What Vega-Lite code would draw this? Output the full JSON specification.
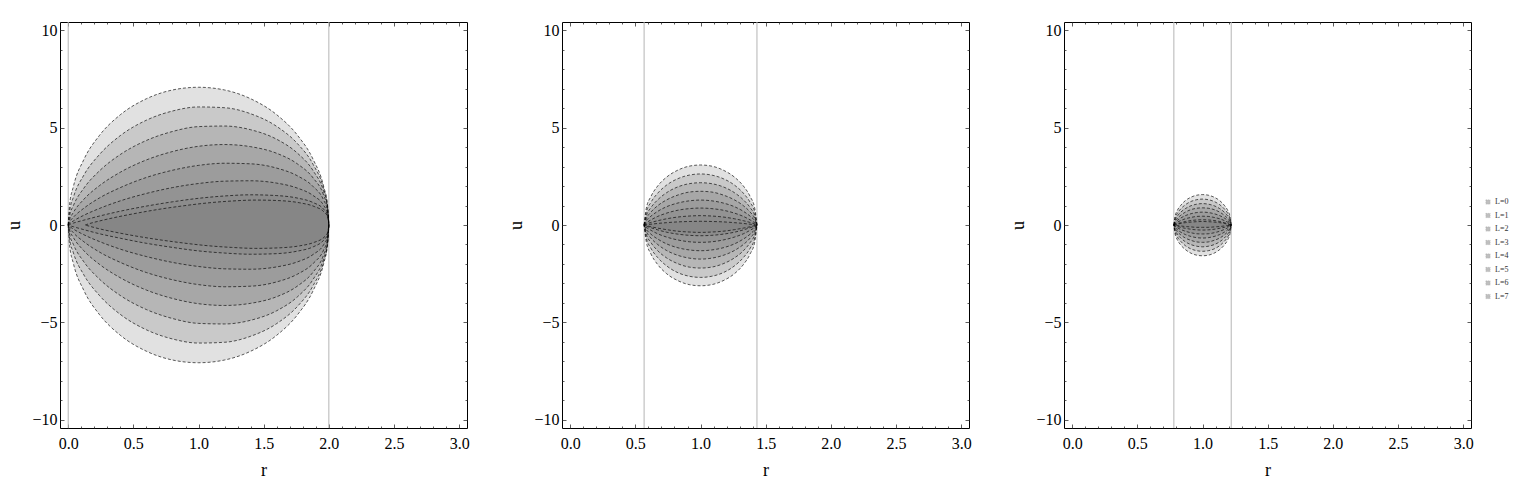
{
"$schema": "https://vega.github.io/schema/vega-lite/v6.json",
"padding": {"left": 5, "top": 21, "right": 0, "bottom": 0},
"bounds": "flush",
"spacing": 95,
"background": "white",
"config": {
  "view": {"stroke": "black", "strokeWidth": 1},
  "axis": {"labelFont": "Liberation Serif", "labelFontSize": 16, "labelColor": "black", "titleFont": "Liberation Serif", "titleFontSize": 18, "titleFontWeight": "normal", "titleColor": "black", "tickColor": "#333", "tickWidth": 0.8, "grid": false, "labelFlush": false, "labelOverlap": false, "domain": false}
},
"datasets": {
"shapes": [
{"p":1,"L":0,"r":0,"hi":0,"lo":0},{"p":1,"L":0,"r":0.01,"hi":1.0,"lo":-1.0},{"p":1,"L":0,"r":0.04,"hi":1.98,"lo":-1.98},{"p":1,"L":0,"r":0.12,"hi":3.36,"lo":-3.36},{"p":1,"L":0,"r":0.24,"hi":4.6,"lo":-4.6},{"p":1,"L":0,"r":0.4,"hi":5.66,"lo":-5.66},{"p":1,"L":0,"r":0.6,"hi":6.48,"lo":-6.48},{"p":1,"L":0,"r":0.8,"hi":6.93,"lo":-6.93},{"p":1,"L":0,"r":1.0,"hi":7.07,"lo":-7.07},{"p":1,"L":0,"r":1.2,"hi":6.93,"lo":-6.93},{"p":1,"L":0,"r":1.4,"hi":6.48,"lo":-6.48},{"p":1,"L":0,"r":1.6,"hi":5.66,"lo":-5.66},{"p":1,"L":0,"r":1.76,"hi":4.6,"lo":-4.6},{"p":1,"L":0,"r":1.88,"hi":3.36,"lo":-3.36},{"p":1,"L":0,"r":1.96,"hi":1.98,"lo":-1.98},{"p":1,"L":0,"r":1.99,"hi":1.0,"lo":-1.0},{"p":1,"L":0,"r":2,"hi":0,"lo":0},
{"p":1,"L":1,"r":0,"hi":0,"lo":0},{"p":1,"L":1,"r":0.01,"hi":0.67,"lo":-0.67},{"p":1,"L":1,"r":0.04,"hi":1.43,"lo":-1.43},{"p":1,"L":1,"r":0.12,"hi":2.56,"lo":-2.56},{"p":1,"L":1,"r":0.24,"hi":3.62,"lo":-3.62},{"p":1,"L":1,"r":0.4,"hi":4.59,"lo":-4.59},{"p":1,"L":1,"r":0.6,"hi":5.38,"lo":-5.38},{"p":1,"L":1,"r":0.8,"hi":5.85,"lo":-5.85},{"p":1,"L":1,"r":1.0,"hi":6.06,"lo":-6.06},{"p":1,"L":1,"r":1.2,"hi":6.02,"lo":-6.02},{"p":1,"L":1,"r":1.4,"hi":5.71,"lo":-5.71},{"p":1,"L":1,"r":1.6,"hi":5.06,"lo":-5.06},{"p":1,"L":1,"r":1.76,"hi":4.17,"lo":-4.17},{"p":1,"L":1,"r":1.88,"hi":3.1,"lo":-3.1},{"p":1,"L":1,"r":1.96,"hi":1.87,"lo":-1.87},{"p":1,"L":1,"r":1.99,"hi":0.97,"lo":-0.97},{"p":1,"L":1,"r":2,"hi":0,"lo":0},
{"p":1,"L":2,"r":0,"hi":0,"lo":0},{"p":1,"L":2,"r":0.01,"hi":0.44,"lo":-0.44},{"p":1,"L":2,"r":0.04,"hi":1.0,"lo":-1.0},{"p":1,"L":2,"r":0.12,"hi":1.89,"lo":-1.89},{"p":1,"L":2,"r":0.24,"hi":2.78,"lo":-2.78},{"p":1,"L":2,"r":0.4,"hi":3.62,"lo":-3.62},{"p":1,"L":2,"r":0.6,"hi":4.34,"lo":-4.34},{"p":1,"L":2,"r":0.8,"hi":4.8,"lo":-4.8},{"p":1,"L":2,"r":1.0,"hi":5.05,"lo":-5.05},{"p":1,"L":2,"r":1.2,"hi":5.08,"lo":-5.08},{"p":1,"L":2,"r":1.4,"hi":4.89,"lo":-4.89},{"p":1,"L":2,"r":1.6,"hi":4.4,"lo":-4.4},{"p":1,"L":2,"r":1.76,"hi":3.68,"lo":-3.68},{"p":1,"L":2,"r":1.88,"hi":2.78,"lo":-2.78},{"p":1,"L":2,"r":1.96,"hi":1.72,"lo":-1.72},{"p":1,"L":2,"r":1.99,"hi":0.92,"lo":-0.92},{"p":1,"L":2,"r":2,"hi":0,"lo":0},
{"p":1,"L":3,"r":0,"hi":0,"lo":0},{"p":1,"L":3,"r":0.01,"hi":0.26,"lo":-0.26},{"p":1,"L":3,"r":0.04,"hi":0.65,"lo":-0.65},{"p":1,"L":3,"r":0.12,"hi":1.32,"lo":-1.32},{"p":1,"L":3,"r":0.24,"hi":2.02,"lo":-2.02},{"p":1,"L":3,"r":0.4,"hi":2.71,"lo":-2.71},{"p":1,"L":3,"r":0.6,"hi":3.34,"lo":-3.34},{"p":1,"L":3,"r":0.8,"hi":3.77,"lo":-3.77},{"p":1,"L":3,"r":1.0,"hi":4.04,"lo":-4.04},{"p":1,"L":3,"r":1.2,"hi":4.13,"lo":-4.13},{"p":1,"L":3,"r":1.4,"hi":4.02,"lo":-4.02},{"p":1,"L":3,"r":1.6,"hi":3.68,"lo":-3.68},{"p":1,"L":3,"r":1.76,"hi":3.13,"lo":-3.13},{"p":1,"L":3,"r":1.88,"hi":2.41,"lo":-2.41},{"p":1,"L":3,"r":1.96,"hi":1.53,"lo":-1.53},{"p":1,"L":3,"r":1.99,"hi":0.84,"lo":-0.84},{"p":1,"L":3,"r":2,"hi":0,"lo":0},
{"p":1,"L":4,"r":0,"hi":0,"lo":0},{"p":1,"L":4,"r":0.01,"hi":0.15,"lo":-0.15},{"p":1,"L":4,"r":0.04,"hi":0.4,"lo":-0.4},{"p":1,"L":4,"r":0.12,"hi":0.86,"lo":-0.86},{"p":1,"L":4,"r":0.24,"hi":1.39,"lo":-1.39},{"p":1,"L":4,"r":0.4,"hi":1.92,"lo":-1.92},{"p":1,"L":4,"r":0.6,"hi":2.44,"lo":-2.44},{"p":1,"L":4,"r":0.8,"hi":2.81,"lo":-2.81},{"p":1,"L":4,"r":1.0,"hi":3.06,"lo":-3.06},{"p":1,"L":4,"r":1.2,"hi":3.17,"lo":-3.17},{"p":1,"L":4,"r":1.4,"hi":3.14,"lo":-3.14},{"p":1,"L":4,"r":1.6,"hi":2.92,"lo":-2.92},{"p":1,"L":4,"r":1.76,"hi":2.52,"lo":-2.52},{"p":1,"L":4,"r":1.88,"hi":1.97,"lo":-1.97},{"p":1,"L":4,"r":1.96,"hi":1.28,"lo":-1.28},{"p":1,"L":4,"r":1.99,"hi":0.73,"lo":-0.73},{"p":1,"L":4,"r":2,"hi":0,"lo":0},
{"p":1,"L":5,"r":0,"hi":0,"lo":0},{"p":1,"L":5,"r":0.01,"hi":0.07,"lo":-0.07},{"p":1,"L":5,"r":0.04,"hi":0.21,"lo":-0.21},{"p":1,"L":5,"r":0.12,"hi":0.5,"lo":-0.5},{"p":1,"L":5,"r":0.24,"hi":0.85,"lo":-0.85},{"p":1,"L":5,"r":0.4,"hi":1.24,"lo":-1.24},{"p":1,"L":5,"r":0.6,"hi":1.62,"lo":-1.62},{"p":1,"L":5,"r":0.8,"hi":1.92,"lo":-1.92},{"p":1,"L":5,"r":1.0,"hi":2.13,"lo":-2.13},{"p":1,"L":5,"r":1.2,"hi":2.25,"lo":-2.25},{"p":1,"L":5,"r":1.4,"hi":2.27,"lo":-2.27},{"p":1,"L":5,"r":1.6,"hi":2.15,"lo":-2.15},{"p":1,"L":5,"r":1.76,"hi":1.89,"lo":-1.89},{"p":1,"L":5,"r":1.88,"hi":1.51,"lo":-1.51},{"p":1,"L":5,"r":1.96,"hi":1.01,"lo":-1.01},{"p":1,"L":5,"r":1.99,"hi":0.59,"lo":-0.59},{"p":1,"L":5,"r":2,"hi":0,"lo":0},
{"p":1,"L":6,"r":0,"hi":0,"lo":0},{"p":1,"L":6,"r":0.01,"hi":0.03,"lo":-0.03},{"p":1,"L":6,"r":0.04,"hi":0.1,"lo":-0.09},{"p":1,"L":6,"r":0.12,"hi":0.25,"lo":-0.24},{"p":1,"L":6,"r":0.24,"hi":0.46,"lo":-0.45},{"p":1,"L":6,"r":0.4,"hi":0.71,"lo":-0.68},{"p":1,"L":6,"r":0.6,"hi":0.97,"lo":-0.94},{"p":1,"L":6,"r":0.8,"hi":1.19,"lo":-1.15},{"p":1,"L":6,"r":1.0,"hi":1.37,"lo":-1.33},{"p":1,"L":6,"r":1.2,"hi":1.49,"lo":-1.44},{"p":1,"L":6,"r":1.4,"hi":1.55,"lo":-1.5},{"p":1,"L":6,"r":1.6,"hi":1.51,"lo":-1.47},{"p":1,"L":6,"r":1.76,"hi":1.38,"lo":-1.34},{"p":1,"L":6,"r":1.88,"hi":1.15,"lo":-1.12},{"p":1,"L":6,"r":1.96,"hi":0.81,"lo":-0.78},{"p":1,"L":6,"r":1.99,"hi":0.51,"lo":-0.49},{"p":1,"L":6,"r":2,"hi":0,"lo":0},
{"p":1,"L":7,"r":0.13,"hi":0,"lo":0},{"p":1,"L":7,"r":0.139,"hi":0.02,"lo":-0.02},{"p":1,"L":7,"r":0.167,"hi":0.08,"lo":-0.07},{"p":1,"L":7,"r":0.242,"hi":0.21,"lo":-0.2},{"p":1,"L":7,"r":0.354,"hi":0.38,"lo":-0.36},{"p":1,"L":7,"r":0.504,"hi":0.58,"lo":-0.55},{"p":1,"L":7,"r":0.691,"hi":0.8,"lo":-0.75},{"p":1,"L":7,"r":0.878,"hi":0.98,"lo":-0.92},{"p":1,"L":7,"r":1.065,"hi":1.13,"lo":-1.06},{"p":1,"L":7,"r":1.252,"hi":1.23,"lo":-1.15},{"p":1,"L":7,"r":1.439,"hi":1.28,"lo":-1.2},{"p":1,"L":7,"r":1.626,"hi":1.25,"lo":-1.17},{"p":1,"L":7,"r":1.776,"hi":1.14,"lo":-1.07},{"p":1,"L":7,"r":1.888,"hi":0.95,"lo":-0.89},{"p":1,"L":7,"r":1.963,"hi":0.67,"lo":-0.63},{"p":1,"L":7,"r":1.991,"hi":0.42,"lo":-0.39},{"p":1,"L":7,"r":2,"hi":0,"lo":0},

{"p":2,"L":0,"r":0.567,"hi":0,"lo":0},{"p":2,"L":0,"r":0.584,"hi":0.86,"lo":-0.87},{"p":2,"L":0,"r":0.619,"hi":1.46,"lo":-1.48},{"p":2,"L":0,"r":0.671,"hi":2.0,"lo":-2.03},{"p":2,"L":0,"r":0.74,"hi":2.46,"lo":-2.5},{"p":2,"L":0,"r":0.827,"hi":2.82,"lo":-2.86},{"p":2,"L":0,"r":0.913,"hi":3.02,"lo":-3.06},{"p":2,"L":0,"r":1.0,"hi":3.08,"lo":-3.12},{"p":2,"L":0,"r":1.087,"hi":3.02,"lo":-3.06},{"p":2,"L":0,"r":1.173,"hi":2.82,"lo":-2.86},{"p":2,"L":0,"r":1.26,"hi":2.46,"lo":-2.5},{"p":2,"L":0,"r":1.329,"hi":2.0,"lo":-2.03},{"p":2,"L":0,"r":1.381,"hi":1.46,"lo":-1.48},{"p":2,"L":0,"r":1.416,"hi":0.86,"lo":-0.87},{"p":2,"L":0,"r":1.433,"hi":0,"lo":0},
{"p":2,"L":1,"r":0.567,"hi":0,"lo":0},{"p":2,"L":1,"r":0.584,"hi":0.65,"lo":-0.66},{"p":2,"L":1,"r":0.619,"hi":1.16,"lo":-1.19},{"p":2,"L":1,"r":0.671,"hi":1.63,"lo":-1.67},{"p":2,"L":1,"r":0.74,"hi":2.05,"lo":-2.1},{"p":2,"L":1,"r":0.827,"hi":2.38,"lo":-2.45},{"p":2,"L":1,"r":0.913,"hi":2.56,"lo":-2.63},{"p":2,"L":1,"r":1.0,"hi":2.62,"lo":-2.69},{"p":2,"L":1,"r":1.087,"hi":2.56,"lo":-2.63},{"p":2,"L":1,"r":1.173,"hi":2.38,"lo":-2.45},{"p":2,"L":1,"r":1.26,"hi":2.05,"lo":-2.1},{"p":2,"L":1,"r":1.329,"hi":1.63,"lo":-1.67},{"p":2,"L":1,"r":1.381,"hi":1.16,"lo":-1.19},{"p":2,"L":1,"r":1.416,"hi":0.65,"lo":-0.66},{"p":2,"L":1,"r":1.433,"hi":0,"lo":0},
{"p":2,"L":2,"r":0.567,"hi":0,"lo":0},{"p":2,"L":2,"r":0.584,"hi":0.47,"lo":-0.48},{"p":2,"L":2,"r":0.619,"hi":0.89,"lo":-0.9},{"p":2,"L":2,"r":0.671,"hi":1.29,"lo":-1.32},{"p":2,"L":2,"r":0.74,"hi":1.66,"lo":-1.69},{"p":2,"L":2,"r":0.827,"hi":1.96,"lo":-1.99},{"p":2,"L":2,"r":0.913,"hi":2.12,"lo":-2.16},{"p":2,"L":2,"r":1.0,"hi":2.17,"lo":-2.21},{"p":2,"L":2,"r":1.087,"hi":2.12,"lo":-2.16},{"p":2,"L":2,"r":1.173,"hi":1.96,"lo":-1.99},{"p":2,"L":2,"r":1.26,"hi":1.66,"lo":-1.69},{"p":2,"L":2,"r":1.329,"hi":1.29,"lo":-1.32},{"p":2,"L":2,"r":1.381,"hi":0.89,"lo":-0.9},{"p":2,"L":2,"r":1.416,"hi":0.47,"lo":-0.48},{"p":2,"L":2,"r":1.433,"hi":0,"lo":0},
{"p":2,"L":3,"r":0.567,"hi":0,"lo":0},{"p":2,"L":3,"r":0.584,"hi":0.33,"lo":-0.33},{"p":2,"L":3,"r":0.619,"hi":0.66,"lo":-0.67},{"p":2,"L":3,"r":0.671,"hi":0.99,"lo":-1.0},{"p":2,"L":3,"r":0.74,"hi":1.29,"lo":-1.31},{"p":2,"L":3,"r":0.827,"hi":1.54,"lo":-1.56},{"p":2,"L":3,"r":0.913,"hi":1.69,"lo":-1.7},{"p":2,"L":3,"r":1.0,"hi":1.73,"lo":-1.75},{"p":2,"L":3,"r":1.087,"hi":1.69,"lo":-1.7},{"p":2,"L":3,"r":1.173,"hi":1.54,"lo":-1.56},{"p":2,"L":3,"r":1.26,"hi":1.29,"lo":-1.31},{"p":2,"L":3,"r":1.329,"hi":0.99,"lo":-1.0},{"p":2,"L":3,"r":1.381,"hi":0.66,"lo":-0.67},{"p":2,"L":3,"r":1.416,"hi":0.33,"lo":-0.33},{"p":2,"L":3,"r":1.433,"hi":0,"lo":0},
{"p":2,"L":4,"r":0.567,"hi":0,"lo":0},{"p":2,"L":4,"r":0.584,"hi":0.22,"lo":-0.22},{"p":2,"L":4,"r":0.619,"hi":0.45,"lo":-0.47},{"p":2,"L":4,"r":0.671,"hi":0.7,"lo":-0.72},{"p":2,"L":4,"r":0.74,"hi":0.94,"lo":-0.97},{"p":2,"L":4,"r":0.827,"hi":1.13,"lo":-1.17},{"p":2,"L":4,"r":0.913,"hi":1.24,"lo":-1.28},{"p":2,"L":4,"r":1.0,"hi":1.28,"lo":-1.32},{"p":2,"L":4,"r":1.087,"hi":1.24,"lo":-1.28},{"p":2,"L":4,"r":1.173,"hi":1.13,"lo":-1.17},{"p":2,"L":4,"r":1.26,"hi":0.94,"lo":-0.97},{"p":2,"L":4,"r":1.329,"hi":0.7,"lo":-0.72},{"p":2,"L":4,"r":1.381,"hi":0.45,"lo":-0.47},{"p":2,"L":4,"r":1.416,"hi":0.22,"lo":-0.22},{"p":2,"L":4,"r":1.433,"hi":0,"lo":0},
{"p":2,"L":5,"r":0.567,"hi":0,"lo":0},{"p":2,"L":5,"r":0.584,"hi":0.11,"lo":-0.12},{"p":2,"L":5,"r":0.619,"hi":0.26,"lo":-0.27},{"p":2,"L":5,"r":0.671,"hi":0.44,"lo":-0.45},{"p":2,"L":5,"r":0.74,"hi":0.61,"lo":-0.62},{"p":2,"L":5,"r":0.827,"hi":0.76,"lo":-0.77},{"p":2,"L":5,"r":0.913,"hi":0.84,"lo":-0.86},{"p":2,"L":5,"r":1.0,"hi":0.87,"lo":-0.89},{"p":2,"L":5,"r":1.087,"hi":0.84,"lo":-0.86},{"p":2,"L":5,"r":1.173,"hi":0.76,"lo":-0.77},{"p":2,"L":5,"r":1.26,"hi":0.61,"lo":-0.62},{"p":2,"L":5,"r":1.329,"hi":0.44,"lo":-0.45},{"p":2,"L":5,"r":1.381,"hi":0.26,"lo":-0.27},{"p":2,"L":5,"r":1.416,"hi":0.11,"lo":-0.12},{"p":2,"L":5,"r":1.433,"hi":0,"lo":0},
{"p":2,"L":6,"r":0.567,"hi":0,"lo":0},{"p":2,"L":6,"r":0.584,"hi":0.05,"lo":-0.06},{"p":2,"L":6,"r":0.619,"hi":0.13,"lo":-0.14},{"p":2,"L":6,"r":0.671,"hi":0.22,"lo":-0.25},{"p":2,"L":6,"r":0.74,"hi":0.32,"lo":-0.37},{"p":2,"L":6,"r":0.827,"hi":0.41,"lo":-0.47},{"p":2,"L":6,"r":0.913,"hi":0.46,"lo":-0.53},{"p":2,"L":6,"r":1.0,"hi":0.48,"lo":-0.55},{"p":2,"L":6,"r":1.087,"hi":0.46,"lo":-0.53},{"p":2,"L":6,"r":1.173,"hi":0.41,"lo":-0.47},{"p":2,"L":6,"r":1.26,"hi":0.32,"lo":-0.37},{"p":2,"L":6,"r":1.329,"hi":0.22,"lo":-0.25},{"p":2,"L":6,"r":1.381,"hi":0.13,"lo":-0.14},{"p":2,"L":6,"r":1.416,"hi":0.05,"lo":-0.06},{"p":2,"L":6,"r":1.433,"hi":0,"lo":0},
{"p":2,"L":7,"r":0.567,"hi":0,"lo":0},{"p":2,"L":7,"r":0.584,"hi":0.01,"lo":-0.03},{"p":2,"L":7,"r":0.619,"hi":0.04,"lo":-0.09},{"p":2,"L":7,"r":0.671,"hi":0.08,"lo":-0.16},{"p":2,"L":7,"r":0.74,"hi":0.12,"lo":-0.24},{"p":2,"L":7,"r":0.827,"hi":0.16,"lo":-0.32},{"p":2,"L":7,"r":0.913,"hi":0.18,"lo":-0.36},{"p":2,"L":7,"r":1.0,"hi":0.19,"lo":-0.38},{"p":2,"L":7,"r":1.087,"hi":0.18,"lo":-0.36},{"p":2,"L":7,"r":1.173,"hi":0.16,"lo":-0.32},{"p":2,"L":7,"r":1.26,"hi":0.12,"lo":-0.24},{"p":2,"L":7,"r":1.329,"hi":0.08,"lo":-0.16},{"p":2,"L":7,"r":1.381,"hi":0.04,"lo":-0.09},{"p":2,"L":7,"r":1.416,"hi":0.01,"lo":-0.03},{"p":2,"L":7,"r":1.433,"hi":0,"lo":0},

{"p":3,"L":0,"r":0.78,"hi":0,"lo":0},{"p":3,"L":0,"r":0.789,"hi":0.44,"lo":-0.44},{"p":3,"L":0,"r":0.806,"hi":0.74,"lo":-0.75},{"p":3,"L":0,"r":0.833,"hi":1.01,"lo":-1.03},{"p":3,"L":0,"r":0.868,"hi":1.25,"lo":-1.26},{"p":3,"L":0,"r":0.912,"hi":1.43,"lo":-1.45},{"p":3,"L":0,"r":0.956,"hi":1.53,"lo":-1.55},{"p":3,"L":0,"r":1.0,"hi":1.56,"lo":-1.58},{"p":3,"L":0,"r":1.044,"hi":1.53,"lo":-1.55},{"p":3,"L":0,"r":1.088,"hi":1.43,"lo":-1.45},{"p":3,"L":0,"r":1.132,"hi":1.25,"lo":-1.26},{"p":3,"L":0,"r":1.167,"hi":1.01,"lo":-1.03},{"p":3,"L":0,"r":1.194,"hi":0.74,"lo":-0.75},{"p":3,"L":0,"r":1.211,"hi":0.44,"lo":-0.44},{"p":3,"L":0,"r":1.22,"hi":0,"lo":0},
{"p":3,"L":1,"r":0.78,"hi":0,"lo":0},{"p":3,"L":1,"r":0.789,"hi":0.33,"lo":-0.33},{"p":3,"L":1,"r":0.806,"hi":0.59,"lo":-0.6},{"p":3,"L":1,"r":0.833,"hi":0.83,"lo":-0.84},{"p":3,"L":1,"r":0.868,"hi":1.04,"lo":-1.06},{"p":3,"L":1,"r":0.912,"hi":1.21,"lo":-1.23},{"p":3,"L":1,"r":0.956,"hi":1.3,"lo":-1.32},{"p":3,"L":1,"r":1.0,"hi":1.33,"lo":-1.35},{"p":3,"L":1,"r":1.044,"hi":1.3,"lo":-1.32},{"p":3,"L":1,"r":1.088,"hi":1.21,"lo":-1.23},{"p":3,"L":1,"r":1.132,"hi":1.04,"lo":-1.06},{"p":3,"L":1,"r":1.167,"hi":0.83,"lo":-0.84},{"p":3,"L":1,"r":1.194,"hi":0.59,"lo":-0.6},{"p":3,"L":1,"r":1.211,"hi":0.33,"lo":-0.33},{"p":3,"L":1,"r":1.22,"hi":0,"lo":0},
{"p":3,"L":2,"r":0.78,"hi":0,"lo":0},{"p":3,"L":2,"r":0.789,"hi":0.24,"lo":-0.24},{"p":3,"L":2,"r":0.806,"hi":0.45,"lo":-0.46},{"p":3,"L":2,"r":0.833,"hi":0.66,"lo":-0.67},{"p":3,"L":2,"r":0.868,"hi":0.84,"lo":-0.86},{"p":3,"L":2,"r":0.912,"hi":0.99,"lo":-1.01},{"p":3,"L":2,"r":0.956,"hi":1.07,"lo":-1.09},{"p":3,"L":2,"r":1.0,"hi":1.1,"lo":-1.12},{"p":3,"L":2,"r":1.044,"hi":1.07,"lo":-1.09},{"p":3,"L":2,"r":1.088,"hi":0.99,"lo":-1.01},{"p":3,"L":2,"r":1.132,"hi":0.84,"lo":-0.86},{"p":3,"L":2,"r":1.167,"hi":0.66,"lo":-0.67},{"p":3,"L":2,"r":1.194,"hi":0.45,"lo":-0.46},{"p":3,"L":2,"r":1.211,"hi":0.24,"lo":-0.24},{"p":3,"L":2,"r":1.22,"hi":0,"lo":0},
{"p":3,"L":3,"r":0.78,"hi":0,"lo":0},{"p":3,"L":3,"r":0.789,"hi":0.17,"lo":-0.17},{"p":3,"L":3,"r":0.806,"hi":0.33,"lo":-0.34},{"p":3,"L":3,"r":0.833,"hi":0.5,"lo":-0.51},{"p":3,"L":3,"r":0.868,"hi":0.66,"lo":-0.67},{"p":3,"L":3,"r":0.912,"hi":0.79,"lo":-0.79},{"p":3,"L":3,"r":0.956,"hi":0.86,"lo":-0.87},{"p":3,"L":3,"r":1.0,"hi":0.88,"lo":-0.89},{"p":3,"L":3,"r":1.044,"hi":0.86,"lo":-0.87},{"p":3,"L":3,"r":1.088,"hi":0.79,"lo":-0.79},{"p":3,"L":3,"r":1.132,"hi":0.66,"lo":-0.67},{"p":3,"L":3,"r":1.167,"hi":0.5,"lo":-0.51},{"p":3,"L":3,"r":1.194,"hi":0.33,"lo":-0.34},{"p":3,"L":3,"r":1.211,"hi":0.17,"lo":-0.17},{"p":3,"L":3,"r":1.22,"hi":0,"lo":0},
{"p":3,"L":4,"r":0.78,"hi":0,"lo":0},{"p":3,"L":4,"r":0.789,"hi":0.11,"lo":-0.11},{"p":3,"L":4,"r":0.806,"hi":0.23,"lo":-0.24},{"p":3,"L":4,"r":0.833,"hi":0.36,"lo":-0.37},{"p":3,"L":4,"r":0.868,"hi":0.48,"lo":-0.49},{"p":3,"L":4,"r":0.912,"hi":0.58,"lo":-0.59},{"p":3,"L":4,"r":0.956,"hi":0.64,"lo":-0.65},{"p":3,"L":4,"r":1.0,"hi":0.66,"lo":-0.67},{"p":3,"L":4,"r":1.044,"hi":0.64,"lo":-0.65},{"p":3,"L":4,"r":1.088,"hi":0.58,"lo":-0.59},{"p":3,"L":4,"r":1.132,"hi":0.48,"lo":-0.49},{"p":3,"L":4,"r":1.167,"hi":0.36,"lo":-0.37},{"p":3,"L":4,"r":1.194,"hi":0.23,"lo":-0.24},{"p":3,"L":4,"r":1.211,"hi":0.11,"lo":-0.11},{"p":3,"L":4,"r":1.22,"hi":0,"lo":0},
{"p":3,"L":5,"r":0.78,"hi":0,"lo":0},{"p":3,"L":5,"r":0.789,"hi":0.06,"lo":-0.06},{"p":3,"L":5,"r":0.806,"hi":0.14,"lo":-0.14},{"p":3,"L":5,"r":0.833,"hi":0.23,"lo":-0.23},{"p":3,"L":5,"r":0.868,"hi":0.32,"lo":-0.32},{"p":3,"L":5,"r":0.912,"hi":0.39,"lo":-0.4},{"p":3,"L":5,"r":0.956,"hi":0.44,"lo":-0.45},{"p":3,"L":5,"r":1.0,"hi":0.45,"lo":-0.46},{"p":3,"L":5,"r":1.044,"hi":0.44,"lo":-0.45},{"p":3,"L":5,"r":1.088,"hi":0.39,"lo":-0.4},{"p":3,"L":5,"r":1.132,"hi":0.32,"lo":-0.32},{"p":3,"L":5,"r":1.167,"hi":0.23,"lo":-0.23},{"p":3,"L":5,"r":1.194,"hi":0.14,"lo":-0.14},{"p":3,"L":5,"r":1.211,"hi":0.06,"lo":-0.06},{"p":3,"L":5,"r":1.22,"hi":0,"lo":0},
{"p":3,"L":6,"r":0.78,"hi":0,"lo":0},{"p":3,"L":6,"r":0.789,"hi":0.03,"lo":-0.03},{"p":3,"L":6,"r":0.806,"hi":0.07,"lo":-0.07},{"p":3,"L":6,"r":0.833,"hi":0.12,"lo":-0.12},{"p":3,"L":6,"r":0.868,"hi":0.18,"lo":-0.17},{"p":3,"L":6,"r":0.912,"hi":0.23,"lo":-0.22},{"p":3,"L":6,"r":0.956,"hi":0.26,"lo":-0.25},{"p":3,"L":6,"r":1.0,"hi":0.27,"lo":-0.26},{"p":3,"L":6,"r":1.044,"hi":0.26,"lo":-0.25},{"p":3,"L":6,"r":1.088,"hi":0.23,"lo":-0.22},{"p":3,"L":6,"r":1.132,"hi":0.18,"lo":-0.17},{"p":3,"L":6,"r":1.167,"hi":0.12,"lo":-0.12},{"p":3,"L":6,"r":1.194,"hi":0.07,"lo":-0.07},{"p":3,"L":6,"r":1.211,"hi":0.03,"lo":-0.03},{"p":3,"L":6,"r":1.22,"hi":0,"lo":0},
{"p":3,"L":7,"r":0.78,"hi":0,"lo":0},{"p":3,"L":7,"r":0.789,"hi":0.01,"lo":-0.01},{"p":3,"L":7,"r":0.806,"hi":0.04,"lo":-0.03},{"p":3,"L":7,"r":0.833,"hi":0.08,"lo":-0.05},{"p":3,"L":7,"r":0.868,"hi":0.12,"lo":-0.08},{"p":3,"L":7,"r":0.912,"hi":0.15,"lo":-0.1},{"p":3,"L":7,"r":0.956,"hi":0.17,"lo":-0.12},{"p":3,"L":7,"r":1.0,"hi":0.18,"lo":-0.12},{"p":3,"L":7,"r":1.044,"hi":0.17,"lo":-0.12},{"p":3,"L":7,"r":1.088,"hi":0.15,"lo":-0.1},{"p":3,"L":7,"r":1.132,"hi":0.12,"lo":-0.08},{"p":3,"L":7,"r":1.167,"hi":0.08,"lo":-0.05},{"p":3,"L":7,"r":1.194,"hi":0.04,"lo":-0.03},{"p":3,"L":7,"r":1.211,"hi":0.01,"lo":-0.01},{"p":3,"L":7,"r":1.22,"hi":0,"lo":0}
],
"bounds": [
{"p":1,"x":0},{"p":1,"x":2},{"p":2,"x":0.567},{"p":2,"x":1.433},{"p":3,"x":0.78},{"p":3,"x":1.22}
]
},
"hconcat": [
{"width":407,"height":406,"resolve":{"axis":{"x":"independent","y":"independent"}},"layer":[
 {"data":{"name":"bounds"},"transform":[{"filter":"datum.p == 1"}],"mark":{"type":"rule","color":"#b4b4b4","strokeWidth":1},"encoding":{"x":{"field":"x","type":"quantitative","scale":{"domain":[-0.063,3.06],"nice":false,"zero":false},"axis":null}}},
 {"data":{"name":"shapes"},"transform":[{"filter":"datum.p == 1"}],"mark":{"type":"area","interpolate":"monotone","fillOpacity":0.215,"strokeWidth":0},"encoding":{
  "x":{"field":"r","type":"quantitative","scale":{"domain":[-0.063,3.06],"nice":false,"zero":false},"axis":{"orient":"bottom","values":[0,0.1,0.2,0.3,0.4,0.5,0.6,0.7,0.8,0.9,1,1.1,1.2,1.3,1.4,1.5,1.6,1.7,1.8,1.9,2,2.1,2.2,2.3,2.4,2.5,2.6,2.7,2.8,2.9,3],"labelExpr":"abs(datum.value*2-round(datum.value*2))<0.001 ? format(datum.value,'.1f') : ''","tickSize":{"condition":{"test":"abs(datum.value*2-round(datum.value*2))<0.001","value":-4},"value":-2},"labelPadding":11,"title":"r","titlePadding":8}},
  "y":{"field":"hi","type":"quantitative","scale":{"domain":[-10.42,10.42],"nice":false,"zero":false},"axis":{"orient":"left","values":[-10,-9,-8,-7,-6,-5,-4,-3,-2,-1,0,1,2,3,4,5,6,7,8,9,10],"labelExpr":"datum.value % 5 == 0 ? format(datum.value,'d') : ''","tickSize":{"condition":{"test":"datum.value % 5 == 0","value":-4},"value":-2},"labelPadding":7,"title":"u","titlePadding":8}},
  "y2":{"field":"lo"},
  "fill":{"field":"L","type":"nominal","scale":{"range":["#737373","#737373","#737373","#737373","#737373","#737373","#737373","#737373"]},"legend":{"orient":"none","legendX":1424,"legendY":176,"title":null,"labelExpr":"'L=' + datum.label","labelFont":"Liberation Serif","labelFontSize":8,"labelColor":"#333","symbolType":"square","symbolSize":18,"symbolOpacity":0.45,"symbolStrokeColor":"#333","symbolStrokeWidth":0.5,"symbolDash":[1,1],"rowPadding":5.5,"labelOffset":3}}
 }},
 {"data":{"name":"shapes"},"transform":[{"filter":"datum.p == 1"}],"mark":{"type":"area","interpolate":"monotone","fillOpacity":0,"stroke":"black","strokeWidth":0.8,"strokeOpacity":0.8,"strokeDash":[3,2]},"encoding":{
  "x":{"field":"r","type":"quantitative","scale":{"domain":[-0.063,3.06],"nice":false,"zero":false},"axis":{"orient":"top","values":[0,0.1,0.2,0.3,0.4,0.5,0.6,0.7,0.8,0.9,1,1.1,1.2,1.3,1.4,1.5,1.6,1.7,1.8,1.9,2,2.1,2.2,2.3,2.4,2.5,2.6,2.7,2.8,2.9,3],"labels":false,"tickSize":{"condition":{"test":"abs(datum.value*2-round(datum.value*2))<0.001","value":-4},"value":-2},"title":null}},
  "y":{"field":"hi","type":"quantitative","scale":{"domain":[-10.42,10.42],"nice":false,"zero":false},"axis":{"orient":"right","values":[-10,-9,-8,-7,-6,-5,-4,-3,-2,-1,0,1,2,3,4,5,6,7,8,9,10],"labels":false,"tickSize":{"condition":{"test":"datum.value % 5 == 0","value":-4},"value":-2},"title":null}},
  "y2":{"field":"lo"},
  "detail":{"field":"L","type":"nominal"}
 }}
]},
{"width":407,"height":406,"resolve":{"axis":{"x":"independent","y":"independent"}},"layer":[
 {"data":{"name":"bounds"},"transform":[{"filter":"datum.p == 2"}],"mark":{"type":"rule","color":"#b4b4b4","strokeWidth":1},"encoding":{"x":{"field":"x","type":"quantitative","scale":{"domain":[-0.063,3.06],"nice":false,"zero":false},"axis":null}}},
 {"data":{"name":"shapes"},"transform":[{"filter":"datum.p == 2"}],"mark":{"type":"area","interpolate":"monotone","fillOpacity":0.215,"strokeWidth":0},"encoding":{
  "x":{"field":"r","type":"quantitative","scale":{"domain":[-0.063,3.06],"nice":false,"zero":false},"axis":{"orient":"bottom","values":[0,0.1,0.2,0.3,0.4,0.5,0.6,0.7,0.8,0.9,1,1.1,1.2,1.3,1.4,1.5,1.6,1.7,1.8,1.9,2,2.1,2.2,2.3,2.4,2.5,2.6,2.7,2.8,2.9,3],"labelExpr":"abs(datum.value*2-round(datum.value*2))<0.001 ? format(datum.value,'.1f') : ''","tickSize":{"condition":{"test":"abs(datum.value*2-round(datum.value*2))<0.001","value":-4},"value":-2},"labelPadding":11,"title":"r","titlePadding":8}},
  "y":{"field":"hi","type":"quantitative","scale":{"domain":[-10.42,10.42],"nice":false,"zero":false},"axis":{"orient":"left","values":[-10,-9,-8,-7,-6,-5,-4,-3,-2,-1,0,1,2,3,4,5,6,7,8,9,10],"labelExpr":"datum.value % 5 == 0 ? format(datum.value,'d') : ''","tickSize":{"condition":{"test":"datum.value % 5 == 0","value":-4},"value":-2},"labelPadding":7,"title":"u","titlePadding":8}},
  "y2":{"field":"lo"},
  "fill":{"field":"L","type":"nominal","scale":{"range":["#737373","#737373","#737373","#737373","#737373","#737373","#737373","#737373"]},"legend":{"orient":"none","legendX":1424,"legendY":176,"title":null,"labelExpr":"'L=' + datum.label","labelFont":"Liberation Serif","labelFontSize":8,"labelColor":"#333","symbolType":"square","symbolSize":18,"symbolOpacity":0.45,"symbolStrokeColor":"#333","symbolStrokeWidth":0.5,"symbolDash":[1,1],"rowPadding":5.5,"labelOffset":3}}
 }},
 {"data":{"name":"shapes"},"transform":[{"filter":"datum.p == 2"}],"mark":{"type":"area","interpolate":"monotone","fillOpacity":0,"stroke":"black","strokeWidth":0.8,"strokeOpacity":0.8,"strokeDash":[3,2]},"encoding":{
  "x":{"field":"r","type":"quantitative","scale":{"domain":[-0.063,3.06],"nice":false,"zero":false},"axis":{"orient":"top","values":[0,0.1,0.2,0.3,0.4,0.5,0.6,0.7,0.8,0.9,1,1.1,1.2,1.3,1.4,1.5,1.6,1.7,1.8,1.9,2,2.1,2.2,2.3,2.4,2.5,2.6,2.7,2.8,2.9,3],"labels":false,"tickSize":{"condition":{"test":"abs(datum.value*2-round(datum.value*2))<0.001","value":-4},"value":-2},"title":null}},
  "y":{"field":"hi","type":"quantitative","scale":{"domain":[-10.42,10.42],"nice":false,"zero":false},"axis":{"orient":"right","values":[-10,-9,-8,-7,-6,-5,-4,-3,-2,-1,0,1,2,3,4,5,6,7,8,9,10],"labels":false,"tickSize":{"condition":{"test":"datum.value % 5 == 0","value":-4},"value":-2},"title":null}},
  "y2":{"field":"lo"},
  "detail":{"field":"L","type":"nominal"}
 }}
]},
{"width":407,"height":406,"resolve":{"axis":{"x":"independent","y":"independent"}},"layer":[
 {"data":{"name":"bounds"},"transform":[{"filter":"datum.p == 3"}],"mark":{"type":"rule","color":"#b4b4b4","strokeWidth":1},"encoding":{"x":{"field":"x","type":"quantitative","scale":{"domain":[-0.063,3.06],"nice":false,"zero":false},"axis":null}}},
 {"data":{"name":"shapes"},"transform":[{"filter":"datum.p == 3"}],"mark":{"type":"area","interpolate":"monotone","fillOpacity":0.215,"strokeWidth":0},"encoding":{
  "x":{"field":"r","type":"quantitative","scale":{"domain":[-0.063,3.06],"nice":false,"zero":false},"axis":{"orient":"bottom","values":[0,0.1,0.2,0.3,0.4,0.5,0.6,0.7,0.8,0.9,1,1.1,1.2,1.3,1.4,1.5,1.6,1.7,1.8,1.9,2,2.1,2.2,2.3,2.4,2.5,2.6,2.7,2.8,2.9,3],"labelExpr":"abs(datum.value*2-round(datum.value*2))<0.001 ? format(datum.value,'.1f') : ''","tickSize":{"condition":{"test":"abs(datum.value*2-round(datum.value*2))<0.001","value":-4},"value":-2},"labelPadding":11,"title":"r","titlePadding":8}},
  "y":{"field":"hi","type":"quantitative","scale":{"domain":[-10.42,10.42],"nice":false,"zero":false},"axis":{"orient":"left","values":[-10,-9,-8,-7,-6,-5,-4,-3,-2,-1,0,1,2,3,4,5,6,7,8,9,10],"labelExpr":"datum.value % 5 == 0 ? format(datum.value,'d') : ''","tickSize":{"condition":{"test":"datum.value % 5 == 0","value":-4},"value":-2},"labelPadding":7,"title":"u","titlePadding":8}},
  "y2":{"field":"lo"},
  "fill":{"field":"L","type":"nominal","scale":{"range":["#737373","#737373","#737373","#737373","#737373","#737373","#737373","#737373"]},"legend":{"orient":"none","legendX":1424,"legendY":176,"title":null,"labelExpr":"'L=' + datum.label","labelFont":"Liberation Serif","labelFontSize":8,"labelColor":"#333","symbolType":"square","symbolSize":18,"symbolOpacity":0.45,"symbolStrokeColor":"#333","symbolStrokeWidth":0.5,"symbolDash":[1,1],"rowPadding":5.5,"labelOffset":3}}
 }},
 {"data":{"name":"shapes"},"transform":[{"filter":"datum.p == 3"}],"mark":{"type":"area","interpolate":"monotone","fillOpacity":0,"stroke":"black","strokeWidth":0.8,"strokeOpacity":0.8,"strokeDash":[3,2]},"encoding":{
  "x":{"field":"r","type":"quantitative","scale":{"domain":[-0.063,3.06],"nice":false,"zero":false},"axis":{"orient":"top","values":[0,0.1,0.2,0.3,0.4,0.5,0.6,0.7,0.8,0.9,1,1.1,1.2,1.3,1.4,1.5,1.6,1.7,1.8,1.9,2,2.1,2.2,2.3,2.4,2.5,2.6,2.7,2.8,2.9,3],"labels":false,"tickSize":{"condition":{"test":"abs(datum.value*2-round(datum.value*2))<0.001","value":-4},"value":-2},"title":null}},
  "y":{"field":"hi","type":"quantitative","scale":{"domain":[-10.42,10.42],"nice":false,"zero":false},"axis":{"orient":"right","values":[-10,-9,-8,-7,-6,-5,-4,-3,-2,-1,0,1,2,3,4,5,6,7,8,9,10],"labels":false,"tickSize":{"condition":{"test":"datum.value % 5 == 0","value":-4},"value":-2},"title":null}},
  "y2":{"field":"lo"},
  "detail":{"field":"L","type":"nominal"}
 }}
]}
]
}
